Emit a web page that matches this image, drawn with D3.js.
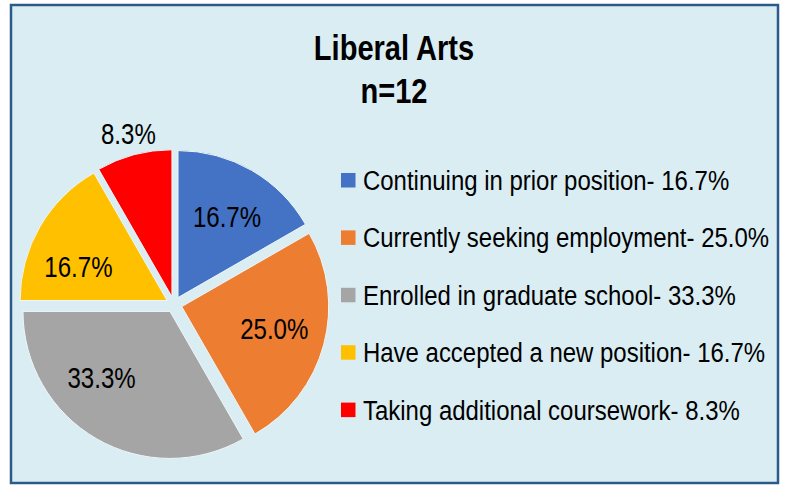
<!DOCTYPE html>
<html>
<head>
<meta charset="utf-8">
<script src="https://cdn.jsdelivr.net/npm/d3@7"></script>
<style>
    html, body { margin: 0; padding: 0; background: #ffffff; }
    svg text { font-family: "Liberation Sans", Arial, sans-serif; fill: #000000; }
    .grfTitle { font-weight: bold; font-size: 35px; }
    .pieTxt { font-size: 29px; }
    .legTxt { font-size: 28px; }
</style>
</head>
<body>
<div id="pieChartGrf"></div>
<script>
// chart data
const titleLines = ["Liberal Arts", "n=12"];
const categories = [
    "Continuing in prior position",
    "Currently seeking employment",
    "Enrolled in graduate school",
    "Have accepted a new position",
    "Taking additional coursework"
];
const percents = [16.7, 25.0, 33.3, 16.7, 8.3];
const sliceColors = ["#4472C4", "#ED7D31", "#A5A5A5", "#FFC000", "#FF0000"];

const W = 786, H = 485;
const BG = "#DAEDF3";
const NARROW = 0.83; // no narrow font installed, squeeze the regular one
const NARROW_LEG = 0.856;
// label angle nudge (degrees) so labels sit like the excel best-fit ones
const LABEL_NUDGE = [1, -2, 16, -9, 0];

function squeeze(x, y, s) {
    return "translate(" + x + "," + y + ") scale(" + (s || NARROW) + ",1)";
}

function drawPieChart() {
    var data = categories.map((c, i) => ({ cat: c, pct: percents[i], color: sliceColors[i] }));

    var svgBase = d3.select("#pieChartGrf").append("svg")
        .attr("width", W)
        .attr("height", H);

    // chart frame
    svgBase.append("rect")
        .attr("x", 11)
        .attr("y", 5)
        .attr("width", 767)
        .attr("height", 478)
        .attr("fill", BG)
        .attr("stroke", "#2B5B88")
        .attr("stroke-width", 2.5);

    // title
    svgBase.selectAll(".grfTitle").data(titleLines).enter()
        .append("text")
        .attr("class", "grfTitle")
        .attr("transform", (d, i) => squeeze(394, 60 + i * 43))
        .attr("text-anchor", "middle")
        .text(d => d);

    // pie
    var cx = 174, cy = 304.5, r = 147, explode = 8;

    var pie = d3.pie()
        .sort(null)
        .value(d => d.pct);

    var arc = d3.arc().innerRadius(0).outerRadius(r);
    var labelArc = d3.arc().innerRadius(95).outerRadius(95);
    var outerArc = d3.arc().innerRadius(169).outerRadius(169);

    var pieGroup = svgBase.append("g")
        .attr("transform", "translate(" + cx + "," + cy + ")");

    var slice = pieGroup.selectAll(".slice").data(pie(data)).enter()
        .append("g")
        .attr("class", "slice")
        .attr("transform", d => {
            var a = (d.startAngle + d.endAngle) / 2;
            return "translate(" + (Math.sin(a) * explode) + "," + (-Math.cos(a) * explode) + ")";
        });

    slice.append("path")
        .attr("d", arc)
        .attr("fill", d => d.data.color)
        .attr("stroke", "#EEF6F9")
        .attr("stroke-width", 1);

    // small slices get their label outside
    slice.append("text")
        .attr("class", "pieTxt")
        .attr("transform", d => {
            var n = LABEL_NUDGE[d.index] * Math.PI / 180;
            var s = { startAngle: d.startAngle + n, endAngle: d.endAngle + n };
            var p = d.data.pct < 10 ? outerArc.centroid(s) : labelArc.centroid(s);
            return squeeze(p[0], p[1]);
        })
        .attr("dy", "0.36em")
        .attr("text-anchor", "middle")
        .text(d => d.data.pct.toFixed(1) + "%");

    // legend
    var legend = svgBase.append("g")
        .attr("transform", "translate(341,190)");

    var leg = legend.selectAll(".leg").data(data).enter()
        .append("g")
        .attr("class", "leg")
        .attr("transform", (d, i) => "translate(0," + (i * 57.4) + ")");

    leg.append("rect")
        .attr("x", 0)
        .attr("y", -17)
        .attr("width", 14.5)
        .attr("height", 14.5)
        .attr("fill", d => d.color);

    leg.append("text")
        .attr("class", "legTxt")
        .attr("transform", squeeze(22, 0, NARROW_LEG))
        .text(d => d.cat + "- " + d.pct.toFixed(1) + "%");
}

drawPieChart();
</script>
</body>
</html>
